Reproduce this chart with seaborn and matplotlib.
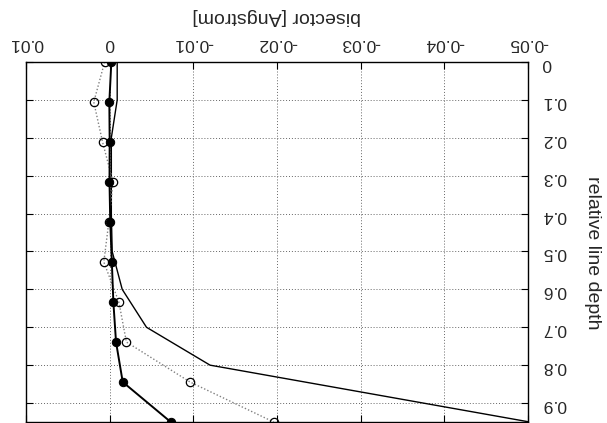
import matplotlib
matplotlib.use("Agg")
import matplotlib.pyplot as plt
import seaborn as sns
import numpy as np

# ---- data ----
depth_model = [0.0, 0.1, 0.2, 0.3, 0.4, 0.5, 0.6, 0.7, 0.8, 0.95]
bisector_model = [-0.0009, -0.0009, -0.0002, -0.0002, -0.0002, -0.0003,
                  -0.0015, -0.0044, -0.0120, -0.0502]

depth_obs = [0.0, 0.1056, 0.2111, 0.3167, 0.4222, 0.5278, 0.6333, 0.7389, 0.8444, 0.95]
bisector_open = [0.0006, 0.0019, 0.00085, -0.0004, 0.0001, 0.0007,
                 -0.0011, -0.0020, -0.0096, -0.0196]
bisector_filled = [-0.0002, 0.00004, 0.0, 0.00002, -0.00007, -0.00026,
                   -0.00044, -0.00076, -0.00156, -0.0073]

x_ticks = [0.01, 0.0, -0.01, -0.02, -0.03, -0.04, -0.05]
x_tick_labels = ["0.01", "0", "-0.01", "-0.02", "-0.03", "-0.04", "-0.05"]
y_ticks = [0.0, 0.1, 0.2, 0.3, 0.4, 0.5, 0.6, 0.7, 0.8, 0.9]
y_tick_labels = ["0", "0.1", "0.2", "0.3", "0.4", "0.5", "0.6", "0.7", "0.8", "0.9"]

sns.set_style("white")
plt.rcParams['font.family'] = ['Liberation Sans', 'DejaVu Sans']
plt.rcParams['font.size'] = 12.5

fig = plt.figure(figsize=(6.07, 4.23), dpi=100)
ax = fig.add_axes([26 / 607, 1 / 423, 502 / 607, 360 / 423])

ax.grid(True, color="#666666", linestyle=(0, (1, 2)), linewidth=0.7)
ax.set_axisbelow(True)

sns.lineplot(x=bisector_model, y=depth_model, sort=False, estimator=None,
             color="black", linewidth=1.0, ax=ax)
sns.lineplot(x=bisector_open, y=depth_obs, sort=False, estimator=None,
             color="#808080", linewidth=1.0, linestyle=(0, (1, 1.5)),
             marker="o", markersize=6, markerfacecolor="none",
             markeredgecolor="black", markeredgewidth=0.9, ax=ax)
sns.lineplot(x=bisector_filled, y=depth_obs, sort=False, estimator=None,
             color="black", linewidth=1.4,
             marker="o", markersize=6, markerfacecolor="black",
             markeredgecolor="black", ax=ax)

ax.set_xlim(0.01, -0.05)
ax.set_ylim(0.95, 0.0)

ax.set_xticks(x_ticks)
ax.set_xticklabels(x_tick_labels)
ax.set_yticks(y_ticks)
ax.set_yticklabels(y_tick_labels)

ax.xaxis.tick_top()
ax.yaxis.tick_right()
ax.tick_params(axis="both", which="both", direction="in", length=5, width=0.8,
               top=True, bottom=True, left=True, right=True,
               labeltop=True, labelbottom=False, labelright=True, labelleft=False,
               labelsize=12.5, color="black")
ax.tick_params(axis="x", pad=8)
ax.tick_params(axis="y", pad=10)
for lab in ax.get_xticklabels():
    lab.set_rotation(180)
for lab in ax.get_yticklabels():
    lab.set_rotation(180)

ax.xaxis.set_label_position("top")
ax.set_xlabel("bisector [Angstrom]", rotation=180, fontsize=14)
ax.xaxis.set_label_coords(0.5, 1 + 45 / 360)
ax.xaxis.label.set_va("center")
ax.yaxis.set_label_position("right")
ax.set_ylabel("relative line depth", rotation=270, fontsize=14)
ax.yaxis.set_label_coords(1 + 64 / 502, 0.47)
ax.yaxis.label.set_ha("center")
ax.yaxis.label.set_va("center")

for s in ax.spines.values():
    s.set_color("black")
    s.set_linewidth(1.0)

fig.savefig("out.png", dpi=100)
